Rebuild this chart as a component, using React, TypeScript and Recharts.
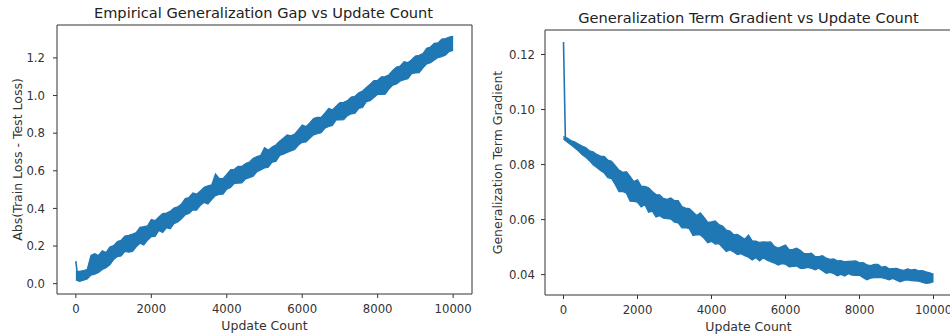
import React from 'react';
import { ComposedChart, Area, Line, XAxis, YAxis, ReferenceArea, Label } from 'recharts';

const STEP = 50; // spacing (updates) of the two first samples
const BAND_STEP = 100; // spacing (updates) of the noise-envelope samples

// Left panel: first samples (spike at update 0)
const gapStart = [0.12, 0.03];
// Left panel: noise envelope of |train loss - test loss|, every 100 updates from 0 to 10000
const gapHigh = [
  0.065, 0.065, 0.07, 0.075, 0.15, 0.16, 0.15, 0.175, 0.165, 0.195,
  0.202, 0.224, 0.231, 0.253, 0.257, 0.263, 0.271, 0.3, 0.303, 0.307,
  0.341, 0.335, 0.355, 0.372, 0.375, 0.384, 0.402, 0.408, 0.424, 0.452,
  0.458, 0.482, 0.476, 0.493, 0.512, 0.52, 0.525, 0.583, 0.559, 0.558,
  0.581, 0.605, 0.608, 0.623, 0.623, 0.639, 0.646, 0.667, 0.675, 0.682,
  0.723, 0.71, 0.727, 0.737, 0.757, 0.773, 0.791, 0.786, 0.795, 0.819,
  0.844, 0.835, 0.855, 0.878, 0.884, 0.884, 0.907, 0.931, 0.924, 0.943,
  0.963, 0.964, 0.973, 0.992, 0.996, 1.015, 1.024, 1.043, 1.06, 1.079,
  1.081, 1.1, 1.101, 1.111, 1.134, 1.152, 1.157, 1.18, 1.175, 1.191,
  1.21, 1.214, 1.223, 1.251, 1.258, 1.278, 1.28, 1.3, 1.303, 1.311,
  1.315,
];
const gapLow = [
  0.02, 0.012, 0.018, 0.025, 0.045, 0.05, 0.06, 0.075, 0.085, 0.1,
  0.128, 0.144, 0.147, 0.172, 0.167, 0.171, 0.196, 0.215, 0.205, 0.231,
  0.25, 0.251, 0.283, 0.272, 0.297, 0.292, 0.319, 0.328, 0.345, 0.366,
  0.373, 0.392, 0.391, 0.416, 0.432, 0.423, 0.447, 0.468, 0.474, 0.476,
  0.502, 0.511, 0.533, 0.534, 0.536, 0.557, 0.564, 0.571, 0.595, 0.605,
  0.615, 0.619, 0.646, 0.65, 0.681, 0.688, 0.697, 0.706, 0.713, 0.737,
  0.751, 0.753, 0.773, 0.791, 0.797, 0.802, 0.826, 0.836, 0.841, 0.87,
  0.87, 0.872, 0.893, 0.903, 0.906, 0.932, 0.936, 0.967, 0.973, 0.989,
  1.006, 1.006, 1.007, 1.035, 1.055, 1.062, 1.077, 1.084, 1.09, 1.117,
  1.12, 1.121, 1.147, 1.168, 1.174, 1.189, 1.202, 1.207, 1.216, 1.235,
  1.24,
];

// Right panel: first samples (spike at update 0)
const gradStart = [0.1245, 0.0898];
// Right panel: noise envelope of the generalization term gradient, every 100 updates from 0 to 10000
const gradHigh = [
  0.0902, 0.0896, 0.0887, 0.0883, 0.0875, 0.0867, 0.0862, 0.085, 0.0846, 0.0837,
  0.0831, 0.083, 0.0816, 0.0812, 0.0796, 0.078, 0.0772, 0.0774, 0.0757, 0.0738,
  0.0745, 0.0722, 0.0721, 0.0716, 0.0702, 0.0691, 0.069, 0.0677, 0.0674, 0.0679,
  0.0669, 0.0669, 0.0647, 0.0642, 0.064, 0.0628, 0.0615, 0.0625, 0.0608, 0.059,
  0.0592, 0.0595, 0.0582, 0.0577, 0.0562, 0.0558, 0.0545, 0.0546, 0.0538, 0.0529,
  0.0544, 0.0523, 0.0522, 0.0517, 0.0519, 0.0518, 0.0519, 0.0503, 0.0497, 0.0502,
  0.0508, 0.049, 0.0492, 0.0496, 0.0489, 0.0477, 0.0476, 0.0478, 0.0466, 0.0466,
  0.0469, 0.046, 0.0456, 0.0457, 0.045, 0.0451, 0.0447, 0.0448, 0.0449, 0.045,
  0.0443, 0.0444, 0.0436, 0.0433, 0.0437, 0.0437, 0.0427, 0.043, 0.0421, 0.0422,
  0.0423, 0.0418, 0.0416, 0.0421, 0.0417, 0.0419, 0.0414, 0.0415, 0.041, 0.0407,
  0.0401,
];
const gradLow = [
  0.0893, 0.0882, 0.0872, 0.0861, 0.085, 0.0836, 0.0827, 0.0814, 0.0799, 0.0789,
  0.0778, 0.0769, 0.0752, 0.0749, 0.0727, 0.0702, 0.0702, 0.0696, 0.0667, 0.0666,
  0.0663, 0.0646, 0.0654, 0.0627, 0.0631, 0.0609, 0.0614, 0.0605, 0.0603, 0.0602,
  0.0591, 0.0588, 0.057, 0.0571, 0.0567, 0.0542, 0.0545, 0.0544, 0.0532, 0.0516,
  0.0521, 0.0511, 0.0513, 0.0498, 0.0484, 0.049, 0.0482, 0.0473, 0.0476, 0.0469,
  0.0463, 0.0453, 0.0461, 0.045, 0.0461, 0.0452, 0.0447, 0.0442, 0.0435, 0.044,
  0.0438, 0.0428, 0.043, 0.0431, 0.0423, 0.0423, 0.0426, 0.0423, 0.0417, 0.0423,
  0.0414, 0.0405, 0.0408, 0.0404, 0.0396, 0.0401, 0.0395, 0.0403, 0.0398, 0.0397,
  0.0398, 0.0389, 0.0381, 0.0387, 0.0389, 0.0389, 0.0389, 0.0385, 0.0381, 0.0386,
  0.038, 0.0374, 0.0379, 0.0381, 0.0378, 0.0377, 0.0376, 0.0372, 0.0368, 0.037,
  0.0374,
];

const xTicks = [0, 2000, 4000, 6000, 8000, 10000];
const xDomain: [number, number] = [-500, 10500];
const gapYTicks = [0, 0.2, 0.4, 0.6, 0.8, 1.0, 1.2];
const gapYDomain: [number, number] = [-0.055, 1.375];
const gradYTicks = [0.04, 0.06, 0.08, 0.1, 0.12];
const gradYDomain: [number, number] = [0.0326, 0.1289];

const leftTitle = 'Empirical Generalization Gap vs Update Count';
const rightTitle = 'Generalization Term Gradient vs Update Count';
const xLabelText = 'Update Count';
const leftYLabel = 'Abs(Train Loss - Test Loss)';
const rightYLabel = 'Generalization Term Gradient';

const toBand = (low: number[], high: number[]) => low.map((l, i) => ({ x: i * BAND_STEP, range: [l, high[i]] }));
const toLine = (vals: number[]) => vals.map((v, i) => ({ x: i * STEP, y: v }));

const gapBand = toBand(gapLow, gapHigh);
const gapStartData = toLine(gapStart);
const gradBand = toBand(gradLow, gradHigh);
const gradStartData = toLine(gradStart);

const FONT = '"DejaVu Sans", sans-serif';
const TEXT = '#333333';
const BLUE = '#1f77b4';
const TICK_FS = 11.7;
const LABEL_FS = 12.5;
const TITLE_FS = 14.6;

const xLabel = (text: string, dy: number) => (props: any) => {
  const vb = props.viewBox || {};
  return (
    <text x={vb.x + vb.width / 2} y={vb.y + dy} textAnchor="middle" fontFamily={FONT} fontSize={LABEL_FS} fill={TEXT}>
      {text}
    </text>
  );
};

const yLabel = (text: string, cx: number) => (props: any) => {
  const vb = props.viewBox || {};
  const cy = vb.y + vb.height / 2;
  const x = vb.x + cx;
  return (
    <text
      x={x}
      y={cy}
      transform={`rotate(-90 ${x} ${cy})`}
      textAnchor="middle"
      dominantBaseline="central"
      fontFamily={FONT}
      fontSize={LABEL_FS}
      fill={TEXT}
    >
      {text}
    </text>
  );
};

const tickStyle = { fill: TEXT, fontSize: TICK_FS, fontFamily: FONT };

const titleStyle = (left: number, width: number, top: number): React.CSSProperties => ({
  position: 'absolute',
  left,
  width,
  top,
  textAlign: 'center',
  fontFamily: FONT,
  fontSize: TITLE_FS,
  lineHeight: '18px',
  color: '#222',
  whiteSpace: 'nowrap',
});

type PanelProps = {
  width: number;
  top: number;
  bottom: number;
  yWidth: number;
  yDomain: [number, number];
  yTicks: number[];
  yDigits: number;
  yLabelText: string;
  yLabelX: number;
  yTickMargin: number;
  band: any[];
  start: any[];
};

function Panel(p: PanelProps) {
  return (
    <ComposedChart width={p.width} height={334} margin={{ top: p.top, right: 3, bottom: 0, left: 0 }}>
      <XAxis
        dataKey="x"
        type="number"
        domain={xDomain}
        ticks={xTicks}
        interval={0}
        allowDataOverflow
        axisLine={false}
        tickLine={{ stroke: TEXT }}
        tickSize={4}
        tickMargin={7}
        tick={tickStyle}
        height={334 - p.bottom}
      >
        <Label content={xLabel(xLabelText, 36)} />
      </XAxis>
      <YAxis
        type="number"
        domain={p.yDomain}
        ticks={p.yTicks}
        interval={0}
        allowDataOverflow
        axisLine={false}
        tickLine={{ stroke: TEXT }}
        tickSize={4}
        tickMargin={p.yTickMargin}
        tick={tickStyle}
        tickFormatter={(v: number) => v.toFixed(p.yDigits)}
        width={p.yWidth}
      >
        <Label content={yLabel(p.yLabelText, p.yLabelX)} />
      </YAxis>
      <ReferenceArea x1={xDomain[0]} x2={xDomain[1]} y1={p.yDomain[0]} y2={p.yDomain[1]} fill="none" fillOpacity={0} stroke="#333" strokeWidth={1} />
      <Area
        data={p.band}
        dataKey="range"
        type="linear"
        stroke={BLUE}
        strokeWidth={1.2}
        fill={BLUE}
        fillOpacity={1}
        dot={false}
        activeDot={false}
        isAnimationActive={false}
      />
      <Line data={p.start} dataKey="y" type="linear" stroke={BLUE} strokeWidth={1.6} dot={false} activeDot={false} isAnimationActive={false} />
    </ComposedChart>
  );
}

export default function App() {
  return (
    <div style={{ position: 'absolute', left: 0, top: 0, width: 950, height: 334, overflow: 'hidden', background: '#fff' }}>
      <div style={titleStyle(57, 413, 4)}>{leftTitle}</div>
      <div style={titleStyle(545, 407, 9)}>{rightTitle}</div>

      <div style={{ position: 'absolute', left: 0, top: 0 }}>
        <Panel
          width={475}
          top={25}
          bottom={294}
          yWidth={57}
          yDomain={gapYDomain}
          yTicks={gapYTicks}
          yDigits={1}
          yLabelText={leftYLabel}
          yLabelX={17}
          yTickMargin={8}
          band={gapBand}
          start={gapStartData}
        />
      </div>

      <div style={{ position: 'absolute', left: 475, top: 0 }}>
        <Panel
          width={480}
          top={30}
          bottom={295}
          yWidth={70}
          yDomain={gradYDomain}
          yTicks={gradYTicks}
          yDigits={2}
          yLabelText={rightYLabel}
          yLabelX={22}
          yTickMargin={6}
          band={gradBand}
          start={gradStartData}
        />
      </div>
    </div>
  );
}
